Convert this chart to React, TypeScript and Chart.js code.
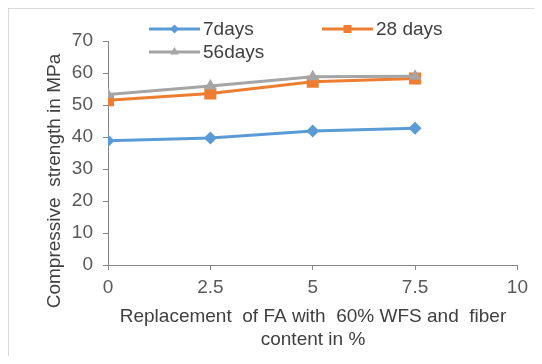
import React, { useEffect, useRef } from "react";
import { Chart, registerables } from "chart.js";

Chart.register(...registerables);

const xValues = [0, 2.5, 5, 7.5];
const days7 = [38.8, 39.7, 41.9, 42.7];
const days28 = [51.5, 53.6, 57.3, 58.3];
const days56 = [53.3, 55.9, 58.8, 59.0];
const seriesNames = ["7days", "28 days", "56days"];
const seriesColors = ["#5b9bd5", "#ed7d31", "#a5a5a5"];
const yTitle = "Compressive  strength in MPa";
const xTitleLines = ["Replacement  of FA with  60% WFS and  fiber", "content in %"];

const FONT = '"Liberation Sans", Arial, sans-serif';

export default function App() {
  const ref = useRef<HTMLCanvasElement | null>(null);

  useEffect(() => {
    const canvas = ref.current;
    if (!canvas) return;
    const styles = ["rectRot", "rect", "triangle"];
    const radii = [6.5, 8.5, 7];
    const legendRadii = [4.5, 5.7, 5];
    const values = [days7, days28, days56];

    function drawMarker(ctx: any, style: string, r: number, x: number, y: number) {
      ctx.beginPath();
      if (style === "rectRot") {
        ctx.moveTo(x, y - r);
        ctx.lineTo(x + r, y);
        ctx.lineTo(x, y + r);
        ctx.lineTo(x - r, y);
      } else if (style === "rect") {
        const s = r * Math.SQRT1_2;
        ctx.rect(x - s, y - s, 2 * s, 2 * s);
      } else {
        ctx.moveTo(x, y - r);
        ctx.lineTo(x + r * 0.866, y + r * 0.5);
        ctx.lineTo(x - r * 0.866, y + r * 0.5);
      }
      ctx.closePath();
      ctx.fill();
    }

    const customPlugin = {
      id: "customText",
      afterDraw(chart: any) {
        const ctx = chart.ctx;
        ctx.save();
        // legend
        const items = [
          { x: 140, y: 20 },
          { x: 313, y: 20 },
          { x: 140, y: 43 },
        ];
        items.forEach((it, i) => {
          ctx.strokeStyle = seriesColors[i];
          ctx.lineWidth = 3;
          ctx.beginPath();
          ctx.moveTo(it.x, it.y);
          ctx.lineTo(it.x + 51, it.y);
          ctx.stroke();
          ctx.fillStyle = seriesColors[i];
          drawMarker(ctx, styles[i], legendRadii[i], it.x + 25.5, it.y);
          ctx.fillStyle = "#404040";
          ctx.font = `19px ${FONT}`;
          ctx.textAlign = "left";
          ctx.textBaseline = "middle";
          ctx.fillText(seriesNames[i], it.x + 54, it.y + 1);
        });
        // y title
        ctx.fillStyle = "#404040";
        ctx.font = `19px ${FONT}`;
        ctx.textAlign = "center";
        ctx.textBaseline = "middle";
        ctx.save();
        ctx.translate(46, 172);
        ctx.rotate(-Math.PI / 2);
        ctx.fillText(yTitle, 0, 0);
        ctx.restore();
        // x title
        ctx.fillText(xTitleLines[0], 304, 308);
        ctx.fillText(xTitleLines[1], 304, 331);
        ctx.restore();
      },
    };

    const chart = new Chart(canvas, {
      type: "line",
      data: {
        datasets: values.map((vals, i) => ({
          label: seriesNames[i],
          data: xValues.map((x, j) => ({ x, y: vals[j] })),
          borderColor: seriesColors[i],
          backgroundColor: seriesColors[i],
          borderWidth: 3,
          pointStyle: styles[i] as any,
          pointRadius: radii[i],
          pointBorderWidth: 0,
          tension: 0,
          order: 2 - i,
        })),
      },
      options: {
        responsive: false,
        animation: false,
        events: [],
        layout: { padding: { left: 0, right: 14, top: 32, bottom: 0 } },
        plugins: {
          legend: { display: false },
          tooltip: { enabled: false },
          title: { display: false },
        },
        scales: {
          x: {
            type: "linear",
            min: 0,
            max: 10,
            ticks: {
              stepSize: 2.5,
              padding: 6,
              color: "#595959",
              font: { family: FONT, size: 19 },
              maxRotation: 0,
            },
            grid: {
              drawOnChartArea: false,
              drawTicks: true,
              tickLength: 5,
              color: "#868686",
            },
            border: { color: "#868686", width: 1 },
            afterFit(scale: any) {
              scale.height = 91;
            },
          },
          y: {
            min: 0,
            max: 70,
            ticks: {
              stepSize: 10,
              padding: 10,
              color: "#595959",
              font: { family: FONT, size: 19 },
            },
            grid: {
              drawOnChartArea: false,
              drawTicks: true,
              tickLength: 5,
              color: "#868686",
            },
            border: { color: "#868686", width: 1 },
            afterFit(scale: any) {
              scale.width = 99;
            },
          },
        },
      },
      plugins: [customPlugin],
    });
    return () => chart.destroy();
  }, []);

  return (
    <div
      style={{
        height: 348,
        borderTop: "1px solid #d9d9d9",
        borderLeft: "1px solid #d9d9d9",
        boxSizing: "border-box",
        overflow: "hidden",
      }}
    >
      <canvas ref={ref} width={525} height={347} style={{ display: "block" }} />
    </div>
  );
}
